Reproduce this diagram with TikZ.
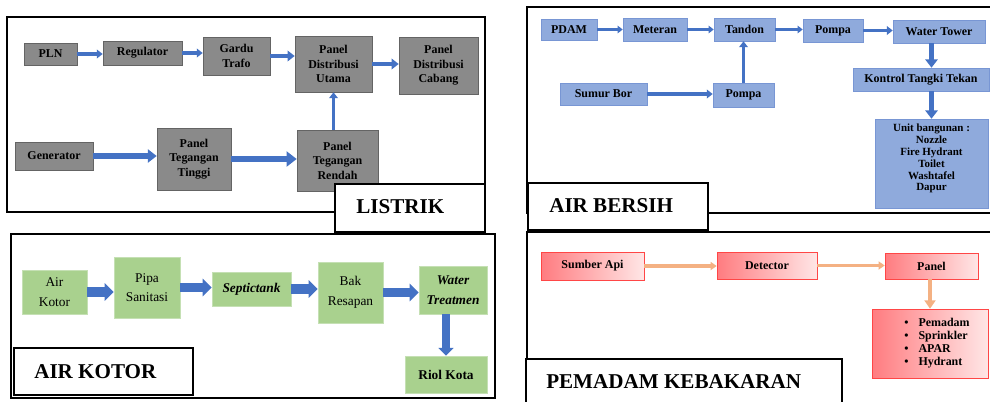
\documentclass[tikz,border=0pt]{standalone}
\usepackage{fontspec}
\setmainfont{Liberation Serif}
\usetikzlibrary{arrows.meta}
\newlength{\pxu}\setlength{\pxu}{0.025cm}
\definecolor{boxgray}{RGB}{138,138,138}
\definecolor{edgegray}{RGB}{100,100,100}
\definecolor{boxblue}{RGB}{143,170,220}
\definecolor{edgeblue}{RGB}{120,150,212}
\definecolor{arrowblue}{RGB}{68,114,196}
\definecolor{boxgreen}{RGB}{169,209,142}
\definecolor{edgegreen}{RGB}{197,224,180}
\definecolor{redleft}{RGB}{255,124,128}
\definecolor{redright}{RGB}{255,230,230}
\definecolor{edgered}{RGB}{255,70,70}
\definecolor{salmon}{RGB}{244,177,131}
\tikzset{
  wh/.style 2 args={minimum width=#1*\pxu, minimum height=#2*\pxu, inner sep=1pt},
  graybox/.style={draw=edgegray, fill=boxgray, align=center, font=\fontsize{8.5}{10.3}\selectfont\bfseries},
  bluebox/.style={draw=edgeblue, fill=boxblue, align=center, font=\fontsize{8.5}{8.3}\selectfont\bfseries},
  unitbox/.style={bluebox, font=\fontsize{7.8}{8.4}\selectfont\bfseries},
  greenbox/.style={draw=edgegreen, fill=boxgreen, align=center, font=\fontsize{9.5}{14}\selectfont},
  redbox/.style={draw=edgered, left color=redleft, right color=redright, align=center, font=\fontsize{8.5}{9.2}\selectfont\bfseries},
  titlebox/.style={draw=black, fill=white, line width=0.8pt},
  titletext/.style={anchor=west, inner sep=0pt, font=\fontsize{15}{18}\selectfont\bfseries},
  frame/.style={draw=black, line width=1.5pt},
  barrow/.style={draw=arrowblue, line width=#1, -{Triangle[length=0pt 1.5, width=0pt 2.2]}},
  garrow/.style={draw=arrowblue, line width=#1, -{Triangle[length=0pt 1, width=0pt 1.9]}},
  sarrow/.style={draw=salmon, line width=#1, -{Triangle[length=0pt 2, width=0pt 2.6]}}
}
\begin{document}
\begin{tikzpicture}[x=0.025cm, y=-0.025cm]
\clip (0,0) rectangle (990,401);
\fill[white] (0,0) rectangle (990,401);
% frames
\draw[frame] (7,17) rectangle (485,212);
\draw[frame] (1000,7) -- (527,7) -- (527,213) -- (1000,213);
\draw[frame] (11,234) rectangle (495,398);
\draw[frame] (1000,232) -- (527,232) -- (527,420);

% LISTRIK
\node[graybox, wh={53}{22}] (pln) at (50.5,54) {PLN};
\node[graybox, wh={79}{24}] (reg) at (142.5,53) {Regulator};
\node[graybox, wh={67}{38}] (gardu) at (236.5,56) {Gardu\\Trafo};
\node[graybox, wh={77}{56}] (pdu) at (333.5,64) {Panel\\Distribusi\\Utama};
\node[graybox, wh={79}{57}] (pdc) at (438.5,65.5) {Panel\\Distribusi\\Cabang};
\node[graybox, wh={78}{28}] (gen) at (54,156) {Generator};
\node[graybox, wh={74}{62}] (ptt) at (194,159) {Panel\\Tegangan\\Tinggi};
\node[graybox, wh={81}{61}] (ptr) at (337.5,160.5) {Panel\\Tegangan\\Rendah};
\draw[barrow=2.8pt] (pln.east) -- (pln.east -| reg.west);
\draw[barrow=2.8pt] (reg.east) -- (reg.east -| gardu.west);
\draw[barrow=3.4pt] (gardu.east) -- (gardu.east -| pdu.west);
\draw[barrow=3.4pt] (pdu.east) -- (pdu.east -| pdc.west);
\draw[barrow=4.2pt] (gen.east) -- (gen.east -| ptt.west);
\draw[barrow=4.8pt] (ptt.east) -- (ptt.east -| ptr.west);
\draw[barrow=2.8pt] (pdu.south |- ptr.north) -- (pdu.south);
\node[titlebox, wh={150}{48}] (listrikbox) at (410,208) {};
\node[titletext] (listrik) at (356,207) {LISTRIK};

% AIR BERSIH
\node[bluebox, wh={56}{21}] (pdam) at (569,29.5) {PDAM};
\node[bluebox, wh={64}{23}] (meteran) at (655,29.5) {Meteran};
\node[bluebox, wh={61}{23}] (tandon) at (744.5,29.5) {Tandon};
\node[bluebox, wh={60}{23}] (pompa) at (833,30.5) {Pompa};
\node[bluebox, wh={92}{23}] (tower) at (939,31.5) {Water Tower};
\node[bluebox, wh={87}{22}] (sumur) at (603.5,94) {Sumur Bor};
\node[bluebox, wh={61}{24}] (pompabor) at (743.5,95) {Pompa};
\node[bluebox, wh={136}{23}] (kontrol) at (921,79.5) {Kontrol Tangki Tekan};
\node[unitbox, wh={113}{89}] (unit) at (931.5,163.5) {Unit bangunan :\\Nozzle\\Fire Hydrant\\Toilet\\Washtafel\\Dapur\\[0pt]};
\draw[barrow=2.4pt] (pdam.east) -- (pdam.east -| meteran.west);
\draw[barrow=2.4pt] (meteran.east) -- (meteran.east -| tandon.west);
\draw[barrow=2.4pt] (tandon.east) -- (tandon.east -| pompa.west);
\draw[barrow=2.8pt] (pompa.east) -- (pompa.east -| tower.west);
\draw[barrow=2.8pt] (sumur.east) -- (sumur.east -| pompabor.west);
\draw[barrow=2.8pt] (pompabor.north) -- (pompabor.north |- tandon.south);
\draw[barrow=4pt] (unit.north |- tower.south) -- (unit.north |- kontrol.north);
\draw[barrow=4pt] (unit.north |- kontrol.south) -- (unit.north);
\node[titlebox, wh={180}{47}] (bersihbox) at (618,206.5) {};
\node[titletext] (bersih) at (549,206) {AIR BERSIH};

% AIR KOTOR
\node[greenbox, wh={65}{44}] (airkotor) at (54.5,292) {Air\\Kotor};
\node[greenbox, wh={66}{61}] (pipa) at (147,287.5) {Pipa\\Sanitasi};
\node[greenbox, wh={79}{34}] (septic) at (251.5,289) {\bfseries\itshape Septictank};
\node[greenbox, wh={65}{61}] (bak) at (350.5,292.5) {Bak\\Resapan};
\node[greenbox, wh={68}{48}] (treat) at (453,290) {\bfseries\itshape Water\\\bfseries\itshape Treatmen};
\node[greenbox, wh={82}{37}] (riol) at (446,374.5) {\bfseries Riol Kota};
\draw[garrow=6.5pt] (airkotor.east) -- (airkotor.east -| pipa.west);
\draw[garrow=6.5pt] (pipa.east) -- (pipa.east -| septic.west);
\draw[garrow=6.5pt] (septic.east) -- (septic.east -| bak.west);
\draw[garrow=6.5pt] (bak.east) -- (bak.east -| treat.west);
\draw[garrow=5.5pt] (riol.north |- treat.south) -- (riol.north);
\node[titlebox, wh={179}{47}] (kotorbox) at (103.5,371.5) {};
\node[titletext] (kotor) at (34,372) {AIR KOTOR};

% PEMADAM KEBAKARAN
\node[redbox, wh={103}{28}] (api) at (592.5,266) {Sumber Api};
\node[redbox, wh={100}{27}] (detector) at (767,265.5) {Detector};
\node[redbox, wh={93}{26}] (panel) at (931.5,266) {Panel};
\node[redbox, wh={116}{69}] (alat) at (930,343.5) {\hspace{14\pxu}\begin{tabular}{@{}l@{\hspace{10\pxu}}l@{}}
\textbullet & Pemadam\\ \textbullet & Sprinkler\\ \textbullet & APAR\\ \textbullet & Hydrant\end{tabular}};
\draw[sarrow=2.2pt] (api.east) -- (api.east -| detector.west);
\draw[sarrow=2.2pt] (detector.east) -- (detector.east -| panel.west);
\draw[sarrow=3pt] (panel.south -| alat.north) -- (alat.north);
\node[titlebox, wh={316}{60}] (pemadambox) at (684,389) {};
\node[titletext] (pemadam) at (546,382) {PEMADAM KEBAKARAN};
\end{tikzpicture}
\end{document}
